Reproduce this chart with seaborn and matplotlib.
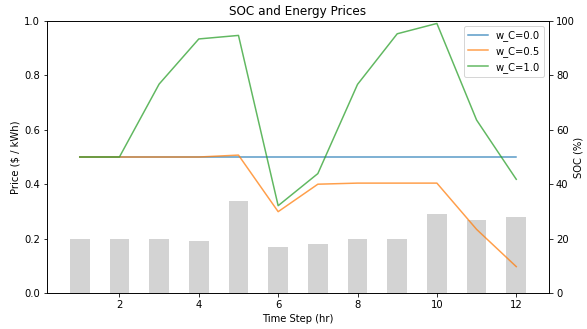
import numpy as np
import pandas as pd
import matplotlib
matplotlib.use("Agg")
import matplotlib.pyplot as plt
import seaborn as sns

# Hourly time steps
time_steps = [1, 2, 3, 4, 5, 6, 7, 8, 9, 10, 11, 12]

# Energy price per hour ($/kWh)
prices = [0.20, 0.20, 0.20, 0.19, 0.34, 0.17, 0.18, 0.20, 0.20, 0.29, 0.27, 0.28]

# State of charge (%) for each cost weight
soc_w00 = [50, 50, 50, 50, 50, 50, 50, 50, 50, 50, 50, 50]
soc_w05 = [50, 50, 50, 50, 50.7, 29.9, 40.0, 40.4, 40.4, 40.4, 23.4, 9.7]
soc_w10 = [50, 50, 76.8, 93.4, 94.7, 32.1, 43.9, 76.7, 95.3, 99.1, 63.6, 41.8]

weight_labels = ["w_C=0.0", "w_C=0.5", "w_C=1.0"]

price_df = pd.DataFrame({"t": time_steps, "price": prices})
soc_df = pd.concat([
    pd.DataFrame({"t": time_steps, "soc": s, "weight": lab})
    for s, lab in zip([soc_w00, soc_w05, soc_w10], weight_labels)
])

dpi = 72
fig, ax = plt.subplots(figsize=(587 / dpi, 329 / dpi), dpi=dpi)
fig.subplots_adjust(left=47 / 587, right=549 / 587, top=1 - 21 / 329, bottom=1 - 293 / 329)

sns.barplot(data=price_df, x="t", y="price", native_scale=True, width=0.5,
            color="lightgray", saturation=1, ax=ax)
ax.set_ylim(0, 1)
ax.set_xlabel("Time Step (hr)")
ax.set_ylabel(r"Price (\$ / kWh)")
ax.set_title("SOC and Energy Prices")

ax2 = ax.twinx()
sns.lineplot(data=soc_df, x="t", y="soc", hue="weight",
             palette=["tab:blue", "tab:orange", "tab:green"],
             linewidth=1.5, alpha=0.75, ax=ax2)
ax2.set_ylim(0, 100)
ax2.set_ylabel("SOC (%)", labelpad=-1)
ax2.set_xlabel("")
handles, labels = ax2.get_legend_handles_labels()
ax2.legend(handles, labels, loc="upper right")

ax.set_xticks([2, 4, 6, 8, 10, 12])
ax.set_xlim(0.175, 12.825)

fig.savefig("out.png", dpi=dpi)
